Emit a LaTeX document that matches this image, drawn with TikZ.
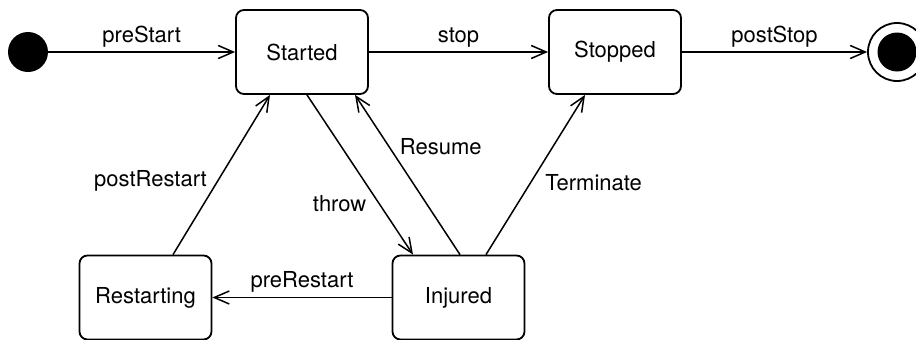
\documentclass[tikz,border=0pt]{standalone}
\usepackage{fontspec}
\setmainfont{TeX Gyre Heros}
\usepackage{tikz}
\usetikzlibrary{arrows.meta}

\tikzset{
  state/.style={draw,line width=0.9pt,rounded corners=4pt,minimum width=66pt,minimum height=42pt,font=\fontsize{11}{13}\selectfont},
  trans/.style={line width=0.75pt,-{Straight Barb[length=7.5pt,width=6.5pt,line width=0.75pt]}},
  lbl/.style={font=\fontsize{11}{13}\selectfont,inner sep=2pt}
}

\begin{document}
\begin{tikzpicture}[x=0.5pt,y=0.5pt]
\useasboundingbox (0,0) rectangle (916,339);
\node[circle,fill=black,minimum size=20pt,inner sep=0pt] (init) at (28,287) {};
\node[state] (started) at (302,287) {Started};
\node[state] (stopped) at (615,287) {Stopped};
\node[state] (restarting) at (145.5,41.5) {Restarting};
\node[state] (injured) at (458.5,41.5) {Injured};
\node[circle,draw,line width=0.9pt,minimum size=29pt,inner sep=0pt] (final) at (897,287) {};
\fill (final.center) circle (9.75pt);
\draw[trans] (init) -- (started) node[lbl,midway,above]{preStart};
\draw[trans] (started) -- (stopped) node[lbl,midway,above]{stop};
\draw[trans] (stopped) -- (final) node[lbl,midway,above]{postStop};
\draw[trans] ([xshift=2.5pt]started.south) -- ([xshift=-22.75pt]injured.north) node[lbl,pos=0.68,left=4pt]{throw};
\draw[trans] ([xshift=0.75pt]injured.north) -- ([xshift=26.5pt]started.south) node[lbl,pos=0.675,right=3pt]{Resume};
\draw[trans] ([xshift=13.75pt]injured.north) -- ([xshift=-15pt]stopped.south) node[lbl,pos=0.45,right=5pt]{Terminate};
\draw[trans] ([xshift=13.75pt]restarting.north) -- ([xshift=-16pt]started.south) node[lbl,pos=0.46,left=3pt]{postRestart};
\draw[trans] (injured) -- (restarting) node[lbl,midway,above]{preRestart};
\end{tikzpicture}
\end{document}
